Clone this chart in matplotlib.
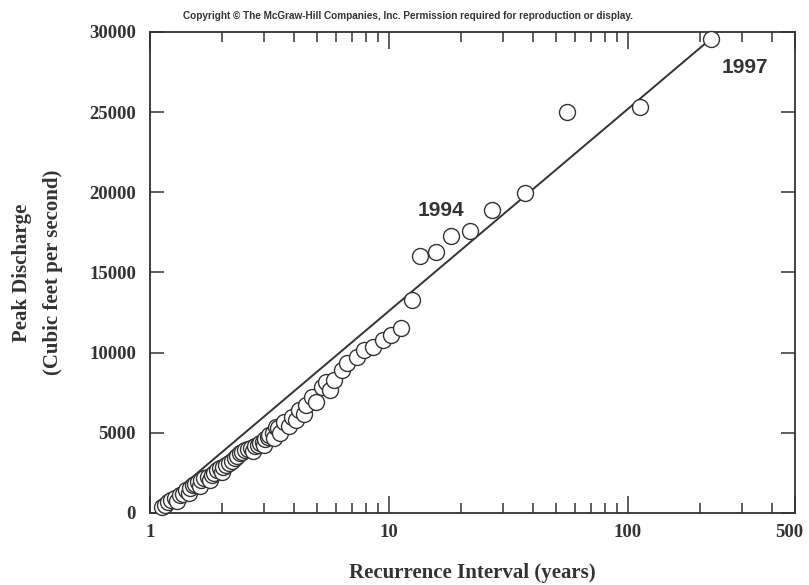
import matplotlib
matplotlib.use("Agg")
import matplotlib.pyplot as plt
import matplotlib.transforms as mtransforms
from matplotlib.ticker import LogLocator, FixedLocator, NullFormatter

# peak discharge (cfs) vs recurrence interval (years)
interval = [1.12, 1.16, 1.19, 1.23, 1.27, 1.30, 1.33, 1.38, 1.42, 1.45, 1.47, 1.51,
            1.55, 1.59, 1.62, 1.64, 1.69, 1.75, 1.78, 1.81, 1.86, 1.90, 1.96,
            2.00, 2.02, 2.08, 2.15, 2.20, 2.26, 2.31, 2.37, 2.43, 2.49, 2.57,
            2.65, 2.70, 2.74, 2.83, 2.90, 2.96, 3.00, 3.04, 3.11, 3.16, 3.27,
            3.30, 3.38, 3.42, 3.50, 3.65, 3.80, 3.91, 4.10, 4.22, 4.40, 4.51,
            4.78, 4.95, 5.26, 5.46, 5.65, 5.90, 6.37, 6.68, 7.36, 7.87, 8.58,
            9.44, 10.2, 11.2, 12.5, 13.5, 15.8, 18.1, 21.8, 27.1, 37.2, 55.7,
            112, 222]
discharge = [360, 520, 700, 780, 920, 760, 1120, 1200, 1430, 1250, 1550, 1750,
             1830, 1960, 1700, 2050, 2170, 2250, 2050, 2370, 2500, 2680, 2780,
             2550, 2890, 2980, 3100, 3250, 3410, 3550, 3720, 3820, 3930, 3980,
             4040, 3850, 4150, 4240, 4350, 4450, 4250, 4600, 4760, 4850, 4970,
             4650, 5370, 5280, 5000, 5680, 5450, 5990, 5800, 6430, 6150, 6740,
             7240, 6950, 7860, 8170, 7700, 8300, 8920, 9360, 9730, 10170, 10360,
             10790, 11100, 11540, 13290, 16030, 16280, 17280, 17590, 18900, 19960,
             25000, 25330, 29570]

# fitted line end points
fit_x = [1.08, 222]
fit_y = [420, 29570]

xticks = [1, 10, 100, 500]
yticks = [0, 5000, 10000, 15000, 20000, 25000, 30000]

ink = "#333333"
serif = "Liberation Serif"
sans = "Liberation Sans"

fig = plt.figure(figsize=(8.09, 5.85), dpi=100)
ax = fig.add_axes([0.1854, 0.1231, 0.7973, 0.8222])

ax.plot(fit_x, fit_y, color=ink, lw=1.4, zorder=2)
ax.plot(interval, discharge, "o", ms=11.5, mfc="white", mec=ink, mew=1.0, zorder=3,
        clip_on=False)

ax.set_xscale("log")
ax.set_xlim(1, 500)
ax.set_ylim(0, 30000)

ax.xaxis.set_major_locator(FixedLocator(xticks))
ax.set_xticklabels([str(t) for t in xticks])
ax.xaxis.set_minor_locator(LogLocator(base=10, subs=range(2, 10)))
ax.xaxis.set_minor_formatter(NullFormatter())
ax.set_yticks(yticks)
ax.set_yticklabels([str(t) for t in yticks])

ax.tick_params(which="both", direction="in", top=True, right=True, color=ink, width=1.1)
ax.tick_params(which="major", axis="x", length=12, pad=8)
ax.tick_params(which="minor", axis="x", length=7)
ax.tick_params(which="major", axis="y", length=10, pad=10)
for lab in ax.get_xticklabels() + ax.get_yticklabels():
    lab.set_fontfamily(serif)
    lab.set_fontweight("bold")
    lab.set_fontsize(13.5)
    lab.set_color(ink)
# nudge the last label so it stays inside the figure
last = ax.get_xticklabels()[-1]
last.set_transform(last.get_transform() + mtransforms.ScaledTranslation(-6 / 100, 0, fig.dpi_scale_trans))
for s in ax.spines.values():
    s.set_color(ink)
    s.set_linewidth(1.3)

ax.set_xlabel("Recurrence Interval (years)", fontfamily=serif, fontweight="bold",
              fontsize=15, color=ink, labelpad=16)
ax.set_ylabel("Peak Discharge\n(Cubic feet per second)", fontfamily=serif,
              fontweight="bold", fontsize=15, color=ink, labelpad=19, linespacing=1.75)

ax.text(16.5, 18840, "1994", fontfamily=sans, fontweight="bold", fontsize=15,
        color=ink, ha="center", va="center")
ax.text(307, 27760, "1997", fontfamily=sans, fontweight="bold", fontsize=15,
        color=ink, ha="center", va="center")

fig.text(0.504, 0.972, "Copyright \u00a9 The McGraw-Hill Companies, Inc. Permission required for reproduction or display.",
         fontfamily=sans, fontweight="bold", fontsize=7.2, color=ink, ha="center", va="center")

fig.savefig("out.png", dpi=100)
